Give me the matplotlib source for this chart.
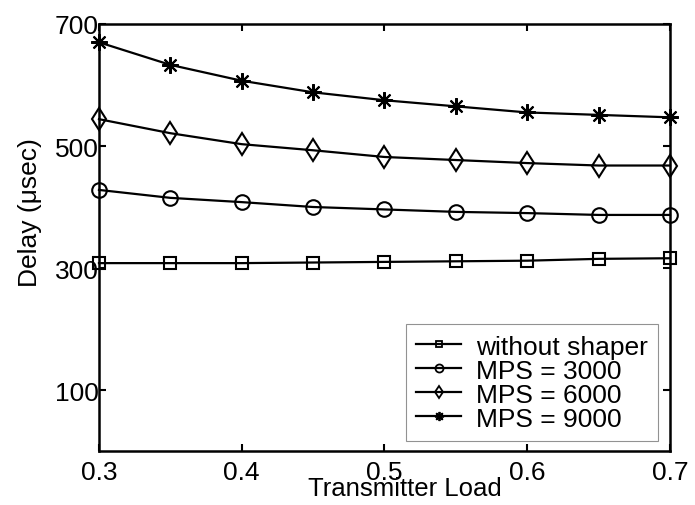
import matplotlib
matplotlib.use("Agg")
from matplotlib import pyplot as plt
from matplotlib.lines import Line2D

plt.rcParams['font.family'] = ['Liberation Sans', 'DejaVu Sans']

load = [0.3, 0.35, 0.4, 0.45, 0.5, 0.55, 0.6, 0.65, 0.7]
no_shaper = [308, 308, 308, 309, 310, 311, 312, 315, 316]
mps3000 = [428, 415, 408, 400, 396, 392, 390, 387, 387]
mps6000 = [544, 521, 503, 493, 482, 477, 472, 468, 468]
mps9000 = [670, 633, 607, 588, 575, 565, 555, 551, 547]
names = ['without shaper', 'MPS = 3000', 'MPS = 6000', 'MPS = 9000']

fig = plt.figure(figsize=(6.95, 5.06), dpi=100)
ax = fig.add_axes([0.1424, 0.1067, 0.9640 - 0.1424, 0.9506 - 0.1067])

asterisk = (8, 2, 0)
styles = [('s', 8), ('o', 10.5), ('d', 11.5), (asterisk, 12)]
series = [no_shaper, mps3000, mps6000, mps9000]

handles = []
for vals, (mk, ms), nm in zip(series, styles, names):
    ax.plot(load, vals, color='black', lw=1.6, marker=mk, ms=ms,
            mfc='none', mec='black', mew=1.5, clip_on=False)
    # legend markers are drawn smaller, like the original
    handles.append(Line2D([], [], color='black', lw=1.6, marker=mk,
                          ms=ms * 0.55, mfc='none', mec='black', mew=1.3))

ax.set_xlim(0.3, 0.7)
ax.set_ylim(0, 700)
ax.set_xticks([0.3, 0.4, 0.5, 0.6, 0.7])
ax.set_yticks([100, 300, 500, 700])
ax.tick_params(direction='in', top=True, right=True, length=5, width=1.5,
               labelsize=19)
ax.tick_params(axis='x', pad=6.5)
ax.tick_params(axis='y', pad=0)
for s in ax.spines.values():
    s.set_linewidth(1.8)

ax.set_xlabel('Transmitter Load', fontsize=18.5)
ax.xaxis.set_label_coords(0.536, -0.0585)
ax.set_ylabel('Delay (\u03bcsec)', fontsize=19)
ax.yaxis.set_label_coords(-0.1, 0.56)

leg = ax.legend(handles, names, loc='lower right', fontsize=19,
                frameon=True, fancybox=False, edgecolor='#777777',
                handlelength=1.7, handletextpad=0.55, labelspacing=0.0,
                borderpad=0.4, borderaxespad=0,
                bbox_to_anchor=(0.979, 0.023))
leg.get_frame().set_linewidth(0.8)

plt.savefig('out.png', dpi=100)
